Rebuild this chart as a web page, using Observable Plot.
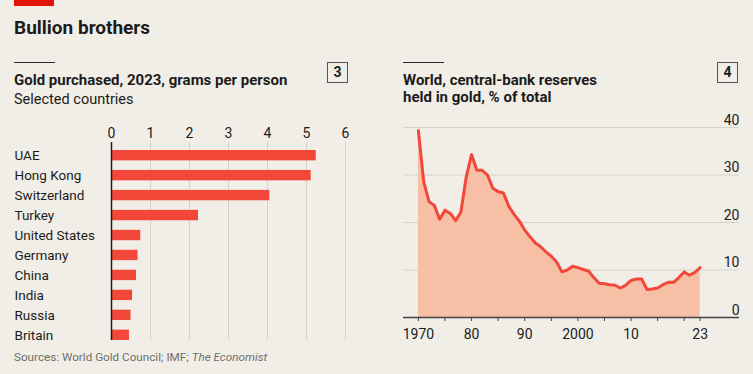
<!DOCTYPE html>
<html>
<head>
<meta charset="utf-8">
<script src="https://cdn.jsdelivr.net/npm/d3@7"></script>
<script src="https://cdn.jsdelivr.net/npm/@observablehq/plot@0.6"></script>
<style>
  html, body { margin: 0; padding: 0; }
  body { width: 753px; height: 374px; background: #f1eee7; position: relative; overflow: hidden; font-family: Roboto, "DejaVu Sans", sans-serif; color: #1c1c1c; }
  .abs { position: absolute; white-space: nowrap; }
  .redbar { left: 14px; top: 0; width: 40px; height: 6px; background: #e3120b; }
  .title { left: 14px; top: 18px; font-size: 19px; line-height: 19px; font-weight: 700; }
  .rule { height: 1px; width: 41px; background: #2a2a2a; top: 62px; }
  .sub { font-size: 15px; line-height: 17px; font-weight: 700; }
  .sub2 { font-size: 14.5px; line-height: 17px; font-weight: 400; }
  .box { width: 19px; height: 19px; border: 1.5px solid #555; top: 62px; font-size: 14px; font-weight: 700; text-align: center; line-height: 19px; }
  .src { left: 14px; top: 351px; font-size: 11.7px; line-height: 13px; color: #6e6e6e; }
</style>
</head>
<body>
<div class="abs redbar"></div>
<div class="abs title">Bullion brothers</div>

<div class="abs rule" style="left:14px"></div>
<div class="abs sub" style="left:14px; top:72px">Gold purchased, 2023, grams per person</div>
<div class="abs sub2" style="left:14px; top:91px">Selected countries</div>
<div class="abs box" style="left:327px">3</div>

<div class="abs rule" style="left:403px"></div>
<div class="abs sub" style="left:403px; top:72px">World, central-bank reserves<br>held in gold, % of total</div>
<div class="abs box" style="left:717px">4</div>

<div id="left" class="abs" style="left:0; top:115px"></div>
<div id="right" class="abs" style="left:380px; top:110px"></div>

<div class="abs src">Sources: World Gold Council; IMF; <i>The Economist</i></div>

<script>
// ---- Data ----
const countries = ["UAE", "Hong Kong", "Switzerland", "Turkey", "United States", "Germany", "China", "India", "Russia", "Britain"];
const gramsPerPerson = [5.25, 5.12, 4.06, 2.23, 0.75, 0.68, 0.64, 0.54, 0.50, 0.46];
const gramsTicks = [0, 1, 2, 3, 4, 5, 6];

const years = [1970,1971,1972,1973,1974,1975,1976,1977,1978,1979,1980,1981,1982,1983,1984,1985,1986,1987,1988,1989,1990,1991,1992,1993,1994,1995,1996,1997,1998,1999,2000,2001,2002,2003,2004,2005,2006,2007,2008,2009,2010,2011,2012,2013,2014,2015,2016,2017,2018,2019,2020,2021,2022,2023];
const goldShare = [39.3,28.6,24.4,23.6,20.7,22.6,21.9,20.4,22.2,29.6,34.3,31.0,31.0,30.0,27.2,26.5,26.2,23.4,21.7,20.3,18.4,17.0,15.7,14.9,13.8,12.9,11.7,9.6,10.0,10.8,10.5,10.1,9.8,8.4,7.2,7.1,6.9,6.8,6.2,6.8,7.8,8.1,8.1,5.9,6.0,6.2,6.9,7.4,7.4,8.4,9.6,8.9,9.5,10.5];
const shareTicks = [0, 10, 20, 30, 40];
const yearMinorTicks = [1970,1975,1980,1985,1990,1995,2000,2005,2010,2015,2020,2023];
const yearLabelTicks = [1970, 1980, 1990, 2000, 2010, 2023];
const yearLabels = ["1970", "80", "90", "2000", "10", "23"];

// ---- Styles ----
const RED = "#f3473a";
const FILL = "#f7bfa6";
const GRID = "#d4d1ca";
const INK = "#1c1c1c";
const baseStyle = {fontFamily: "Roboto, sans-serif", fontSize: "13px", color: INK, background: "transparent", overflow: "visible"};

// ---- Left chart ----
const barData = countries.map((c, i) => ({country: c, value: gramsPerPerson[i]}));
const left = Plot.plot({
  width: 370, height: 235,
  marginLeft: 111, marginRight: 25, marginTop: 27, marginBottom: 10,
  style: baseStyle,
  x: {domain: [0, 6], axis: null, label: null},
  y: {domain: countries, paddingInner: 0.48, paddingOuter: 0.2, align: 1, round: false, axis: null, label: null},
  marks: [
    Plot.ruleX(gramsTicks.filter(d => d > 0), {stroke: GRID, strokeWidth: 1}),
    Plot.barX(barData, {x: "value", y: "country", fill: RED}),
    Plot.ruleX([0], {stroke: INK, strokeWidth: 1.5}),
    Plot.axisX(gramsTicks, {anchor: "top", tickSize: 0, tickPadding: 5, fontSize: 14, label: null}),
    Plot.text(countries, {y: d => d, text: d => d, frameAnchor: "left", textAnchor: "start", dx: -97, fontSize: 13.5, fill: INK})
  ]
});
document.getElementById("left").appendChild(left);

// ---- Right chart ----
const lineData = years.map((y, i) => ({year: y, share: goldShare[i]}));
const right = Plot.plot({
  width: 373, height: 240,
  marginLeft: 23, marginRight: 14, marginTop: 17, marginBottom: 33,
  style: baseStyle,
  x: {domain: [1967.2, 2030.4], axis: null, label: null},
  y: {domain: [0, 40], axis: null, label: null},
  marks: [
    Plot.ruleY(shareTicks.filter(d => d > 0), {stroke: GRID, strokeWidth: 1.2}),
    Plot.areaY(lineData, {x: "year", y: "share", fill: FILL}),
    Plot.lineY(lineData, {x: "year", y: "share", stroke: RED, strokeWidth: 3, strokeLinejoin: "round"}),
    Plot.ruleY([0], {stroke: "#444", strokeWidth: 1.5}),
    Plot.axisX(yearMinorTicks, {tickSize: 4, tickFormat: () => "", stroke: "#444", label: null}),
    Plot.axisX(yearLabelTicks, {tickSize: 0, tickPadding: 12, tickFormat: d => yearLabels[yearLabelTicks.indexOf(d)], fontSize: 14, label: null}),
    Plot.text(shareTicks, {y: d => d, text: d => String(d), frameAnchor: "right", textAnchor: "end", lineAnchor: "bottom", dy: -3, fontSize: 14, fill: INK})
  ]
});
document.getElementById("right").appendChild(right);
</script>
</body>
</html>
